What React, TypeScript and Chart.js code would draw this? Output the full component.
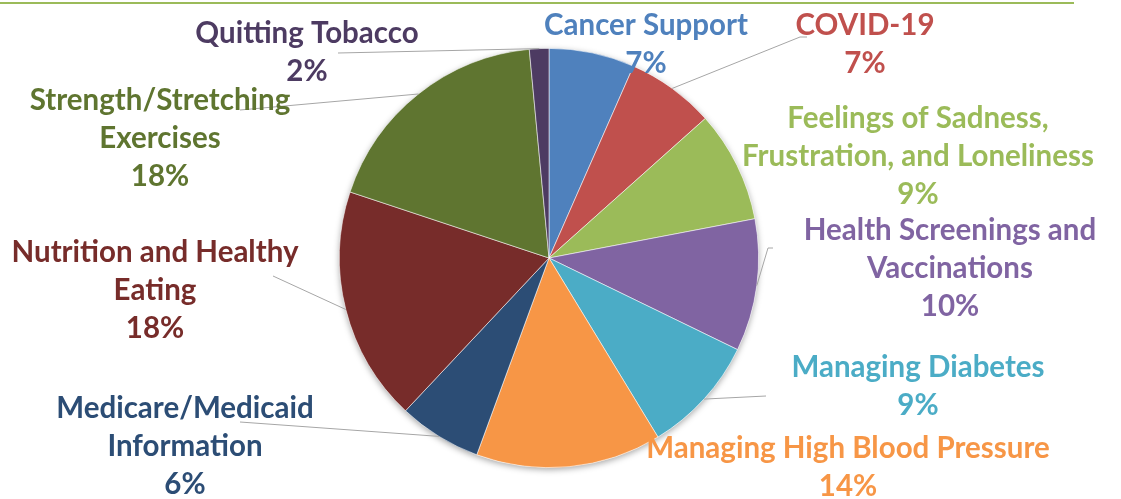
import React, { useEffect, useRef } from "react";
import { Chart, registerables } from "chart.js";

Chart.register(...registerables);

// ---- data ----
const categories = [
  "Cancer Support",
  "COVID-19",
  "Feelings of Sadness, Frustration, and Loneliness",
  "Health Screenings and Vaccinations",
  "Managing Diabetes",
  "Managing High Blood Pressure",
  "Medicare/Medicaid Information",
  "Nutrition and Healthy Eating",
  "Strength/Stretching Exercises",
  "Quitting Tobacco",
];
const shares = [6.6, 6.8, 8.6, 10.2, 9.1, 14.3, 6.4, 18.1, 18.4, 1.5];
const sliceColors = [
  "#4F81BD",
  "#C0504D",
  "#9BBB59",
  "#8064A2",
  "#4BACC6",
  "#F79646",
  "#2C4D75",
  "#772C2A",
  "#5F7530",
  "#4D3B62",
];

// ---- label layout ----
const labelLines = [
  ["Cancer Support"],
  ["COVID-19"],
  ["Feelings of Sadness,", "Frustration, and Loneliness"],
  ["Health Screenings and", "Vaccinations"],
  ["Managing Diabetes"],
  ["Managing High Blood Pressure"],
  ["Medicare/Medicaid", "Information"],
  ["Nutrition and Healthy", "Eating"],
  ["Strength/Stretching", "Exercises"],
  ["Quitting Tobacco"],
];
const labelAnchors: [number, number][] = [
  [646, 25],
  [865, 25],
  [918, 118],
  [950, 230],
  [918, 367],
  [848, 448],
  [185, 408],
  [155, 252],
  [160, 100],
  [307, 33],
];
const leaderStarts: ([number, number][] | null)[] = [
  null,
  [[807, 37], [800, 37]],
  null,
  [[773, 248], [768, 248]],
  [[766, 396]],
  null,
  [[240, 422]],
  [[273, 276]],
  [[240, 110]],
  [[338, 53]],
];
const LINE_GAP = 38;
const FONT = "bold 29.5px Lato, 'Open Sans', sans-serif";

const pieShadow = {
  id: "pieShadow",
  beforeDatasetsDraw(chart: any) {
    const arc = chart.getDatasetMeta(0).data[0];
    if (!arc) return;
    const ctx = chart.ctx;
    ctx.save();
    ctx.beginPath();
    ctx.arc(arc.x, arc.y, arc.outerRadius, 0, Math.PI * 2);
    ctx.fillStyle = "#ffffff";
    ctx.shadowColor = "rgba(0,0,0,0.35)";
    ctx.shadowBlur = 6;
    ctx.shadowOffsetY = 2;
    ctx.fill();
    ctx.restore();
  },
};

const labelsPlugin = {
  id: "sliceLabels",
  afterDraw(chart: any) {
    const ctx = chart.ctx;
    const meta = chart.getDatasetMeta(0);
    const total = shares.reduce((a, b) => a + b, 0);

    // top rule
    ctx.save();
    ctx.strokeStyle = "#9BBB59";
    ctx.lineWidth = 2;
    ctx.beginPath();
    ctx.moveTo(0, 3);
    ctx.lineTo(1074, 3);
    ctx.stroke();
    ctx.restore();

    meta.data.forEach((arc: any, i: number) => {
      const path = leaderStarts[i];
      if (path) {
        const mid = (arc.startAngle + arc.endAngle) / 2;
        const ex = arc.x + arc.outerRadius * Math.cos(mid);
        const ey = arc.y + arc.outerRadius * Math.sin(mid);
        ctx.save();
        ctx.strokeStyle = "#A6A6A6";
        ctx.lineWidth = 1;
        ctx.beginPath();
        ctx.moveTo(path[0][0], path[0][1]);
        for (let k = 1; k < path.length; k++) ctx.lineTo(path[k][0], path[k][1]);
        ctx.lineTo(ex, ey);
        ctx.stroke();
        ctx.restore();
      }
    });

    meta.data.forEach((arc: any, i: number) => {
      const pct = Math.round((shares[i] / total) * 100) + "%";
      const lines = [...labelLines[i], pct];
      const [cx, cy] = labelAnchors[i];
      ctx.save();
      ctx.font = FONT;
      ctx.fillStyle = sliceColors[i];
      ctx.textAlign = "center";
      ctx.textBaseline = "middle";
      lines.forEach((t, k) => ctx.fillText(t, cx, cy + k * LINE_GAP));
      ctx.restore();
    });
  },
};

export default function App() {
  const ref = useRef<HTMLCanvasElement | null>(null);
  useEffect(() => {
    document.body.style.margin = "0";
    const canvas = ref.current;
    if (!canvas) return;
    const chart = new Chart(canvas, {
      type: "pie",
      data: {
        labels: categories,
        datasets: [
          {
            data: shares,
            backgroundColor: sliceColors,
            borderColor: "rgba(255,255,255,0.7)",
            borderWidth: 0.75,
          },
        ],
      },
      options: {
        responsive: false,
        animation: false,
        layout: { padding: { top: 48, bottom: 31, left: 339, right: 362 } },
        plugins: {
          legend: { display: false },
          tooltip: { enabled: false },
          title: { display: false },
        },
      },
      plugins: [pieShadow, labelsPlugin],
    });
    return () => chart.destroy();
  }, []);
  return (
    <div style={{ width: 1121, height: 499, background: "#fff" }}>
      <canvas ref={ref} width={1121} height={499} style={{ display: "block" }} />
    </div>
  );
}
